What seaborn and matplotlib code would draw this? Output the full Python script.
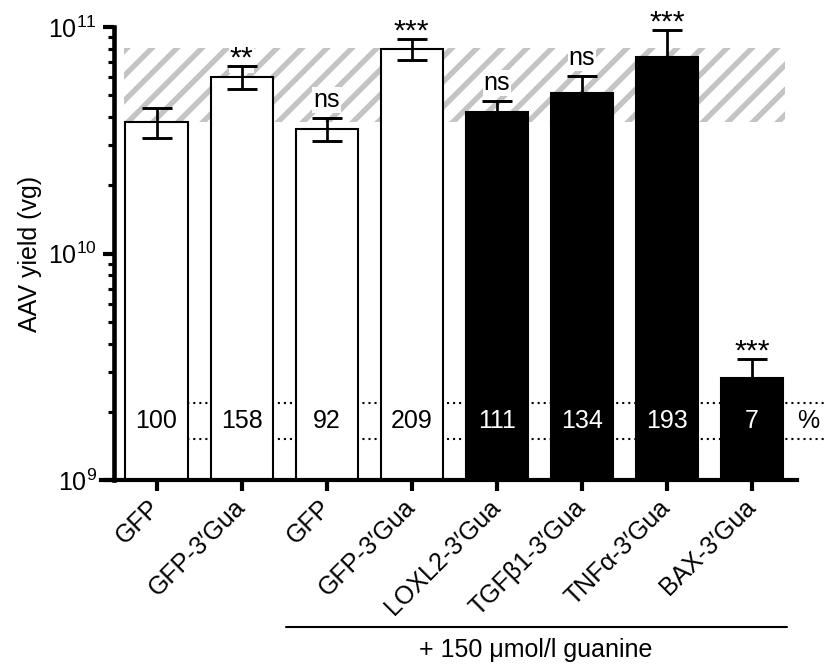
import numpy as np
import pandas as pd
import matplotlib
matplotlib.use("Agg")
import matplotlib.pyplot as plt
from matplotlib.patches import Rectangle
from matplotlib.ticker import NullFormatter
import seaborn as sns

# data
lanes = ['1', '2', '3', '4', '5', '6', '7', '8']
labels = ['GFP', 'GFP-3′Gua', 'GFP', 'GFP-3′Gua', 'LOXL2-3′Gua',
          'TGFβ1-3′Gua', 'TNFα-3′Gua', 'BAX-3′Gua']
yield_vg = [3.81e10, 6.02e10, 3.55e10, 8.0e10, 4.21e10, 5.11e10, 7.37e10, 2.82e9]
sd_vg = [0.58e10, 0.71e10, 0.42e10, 0.85e10, 0.50e10, 0.97e10, 2.33e10, 0.60e9]
percent = ['100', '158', '92', '209', '111', '134', '193', '7']
signif = ['', '**', 'ns', '***', 'ns', 'ns', '***', '***']
bar_colors = ['white'] * 4 + ['black'] * 4
band = [3.81e10, 8.07e10]      # hatched reference range
pct_row = [1.52e9, 2.19e9]     # dotted lines framing the % row

sns.set_style("ticks")
plt.rcParams['font.family'] = ['Liberation Sans', 'DejaVu Sans']
plt.rcParams['hatch.linewidth'] = 2.6
plt.rcParams['axes.linewidth'] = 2.0
for k in ['text.color', 'axes.labelcolor', 'axes.edgecolor', 'xtick.color', 'ytick.color']:
    plt.rcParams[k] = 'black'

df = pd.DataFrame({'lane': lanes, 'vg': yield_vg})

fig = plt.figure(figsize=(826 / 150, 665 / 150), dpi=150)
ax = fig.add_axes([114 / 826, 1 - 480 / 665, (797 - 114) / 826, (480 - 27) / 665])

sns.barplot(data=df, x='lane', y='vg', hue='lane', palette=bar_colors, legend=False,
            errorbar=None, width=0.73, saturation=1, edgecolor='black', linewidth=1.0,
            zorder=2, ax=ax)
ax.set_yscale('log')
ax.set_ylim(1e9, 1e11)
ax.set_xlim(-0.5, 7.53)

ax.errorbar(range(len(lanes)), yield_vg, yerr=sd_vg, fmt='none', ecolor='black',
            elinewidth=1.3, capsize=7.4, capthick=1.4, zorder=5)

# hatched band behind the bars
ax.add_patch(Rectangle((-0.38, band[0]), 7.77, band[1] - band[0], facecolor='none',
                       edgecolor='#c4c4c4', linewidth=0, hatch='//', zorder=0.5))

# percent row
ax.hlines(pct_row, 0, 7.9, colors='black', linestyles=(0, (1, 1.9)), linewidth=1.0,
          zorder=0.6, clip_on=False)
mid = np.sqrt(pct_row[0] * pct_row[1])
for i, p in enumerate(percent):
    ax.text(i, mid, p, ha='center', va='center', fontsize=12, zorder=6,
            color='white' if bar_colors[i] == 'black' else 'black')
ax.text(7.66, mid, '%', ha='center', va='center', fontsize=12, clip_on=False)

# significance marks
for i, s in enumerate(signif):
    if not s:
        continue
    if s == 'ns':
        off, fs = 3, 12
    else:
        off, fs = -3, 14.5
    ax.annotate(s, xy=(i, yield_vg[i] + sd_vg[i]), xytext=(0, off), textcoords='offset points',
                ha='center', va='bottom', fontsize=fs, zorder=4,
                bbox=dict(facecolor='white', edgecolor='none', pad=0.5))

# axes styling
sns.despine(ax=ax)
ax.spines['left'].set_linewidth(2.2)
ax.spines['bottom'].set_bounds(-0.65, 7.53)
ax.tick_params(axis='both', which='major', length=5.3, width=2, color='black')
ax.tick_params(axis='y', which='minor', length=2.8, width=1.5, color='black')
ax.tick_params(axis='y', labelsize=12, pad=3)
ax.yaxis.set_minor_formatter(NullFormatter())
ax.set_xticks(range(len(lanes)))
ax.set_xticklabels(labels, rotation=45, ha='right', va='center', rotation_mode='anchor',
                   fontsize=12)
ax.tick_params(axis='x', pad=6)
ax.set_xlabel('')
ax.set_ylabel('AAV yield (vg)', fontsize=12, labelpad=3)

# guanine treatment bracket
tr = ax.get_xaxis_transform()
ax.plot([1.52, 7.41], [-0.3245, -0.3245], color='black', linewidth=1.0, transform=tr, clip_on=False)
ax.text(4.46, -0.375, '+ 150 μmol/l guanine', ha='center', va='center', fontsize=12,
        transform=tr)

fig.savefig('out.png', dpi=150)
